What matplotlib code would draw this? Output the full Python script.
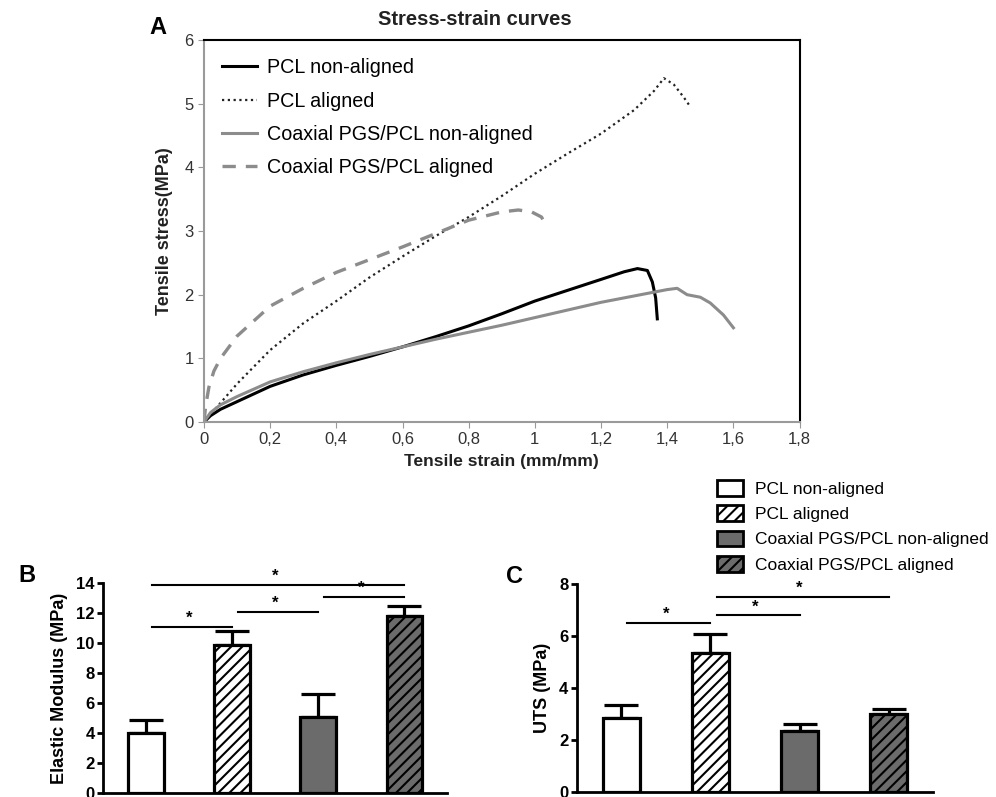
import numpy as np
import matplotlib
matplotlib.use("Agg")
import matplotlib.pyplot as plt

plt.rcParams['font.family'] = ['Liberation Sans', 'DejaVu Sans']
plt.rcParams['hatch.linewidth'] = 1.5

# ---- panel A: stress-strain curves ----
pcl_na_x = [0, 0.02, 0.05, 0.1, 0.2, 0.3, 0.4, 0.5, 0.6, 0.7, 0.8, 0.9, 1.0, 1.1, 1.2, 1.27, 1.31, 1.34, 1.355, 1.365, 1.37]
pcl_na_y = [0, 0.1, 0.2, 0.32, 0.56, 0.74, 0.89, 1.03, 1.18, 1.34, 1.51, 1.70, 1.90, 2.07, 2.24, 2.36, 2.41, 2.38, 2.2, 1.95, 1.62]

pcl_al_x = [0, 0.03, 0.1, 0.2, 0.3, 0.4, 0.5, 0.6, 0.7, 0.8, 0.9, 1.0, 1.1, 1.2, 1.3, 1.36, 1.39, 1.42, 1.45, 1.47]
pcl_al_y = [0, 0.18, 0.6, 1.13, 1.55, 1.9, 2.27, 2.6, 2.92, 3.22, 3.55, 3.9, 4.22, 4.53, 4.9, 5.2, 5.4, 5.3, 5.1, 4.95]

pgs_na_x = [0, 0.02, 0.05, 0.1, 0.2, 0.3, 0.4, 0.5, 0.6, 0.7, 0.8, 0.9, 1.0, 1.1, 1.2, 1.3, 1.4, 1.43, 1.46, 1.5, 1.53, 1.57, 1.6]
pgs_na_y = [0, 0.15, 0.27, 0.4, 0.63, 0.79, 0.93, 1.06, 1.18, 1.3, 1.41, 1.52, 1.64, 1.76, 1.88, 1.98, 2.08, 2.1, 2.0, 1.96, 1.87, 1.68, 1.48]

pgs_al_x = [0, 0.005, 0.015, 0.03, 0.05, 0.1, 0.2, 0.3, 0.4, 0.5, 0.6, 0.7, 0.8, 0.9, 0.95, 0.99, 1.02, 1.03]
pgs_al_y = [0, 0.25, 0.55, 0.8, 1.0, 1.35, 1.82, 2.1, 2.35, 2.55, 2.75, 2.96, 3.17, 3.3, 3.33, 3.3, 3.22, 3.12]

# ---- panels B and C: bar data ----
groups = ["PCL non-aligned", "PCL aligned", "Coaxial PGS/PCL non-aligned", "Coaxial PGS/PCL aligned"]
modulus = [4.0, 9.9, 5.05, 11.8]
modulus_err = [0.9, 0.9, 1.55, 0.7]
uts = [2.85, 5.35, 2.33, 3.0]
uts_err = [0.48, 0.75, 0.27, 0.19]
# significance bars: (from group, to group, height)
sig_b = [(0, 1, 11.1), (1, 2, 12.1), (2, 3, 13.1), (0, 3, 13.9)]
sig_c = [(0, 1, 6.5), (1, 2, 6.8), (1, 3, 7.5)]

bar_face = ["white", "white", "#6b6b6b", "#6b6b6b"]
bar_hatch = [None, "///", None, "///"]

fig = plt.figure(figsize=(9.96, 7.97), dpi=100)

# ---------- A ----------
axA = fig.add_axes([0.2048, 0.4705, 0.598, 0.4793])
axA.plot(pcl_na_x, pcl_na_y, color="black", lw=2.2, label="PCL non-aligned")
axA.plot(pcl_al_x, pcl_al_y, color="#222222", lw=1.6, ls=(0, (1, 1.6)), label="PCL aligned")
axA.plot(pgs_na_x, pgs_na_y, color="#8c8c8c", lw=2.2, label="Coaxial PGS/PCL non-aligned")
axA.plot(pgs_al_x, pgs_al_y, color="#8c8c8c", lw=2.4, ls=(0, (4, 3)), label="Coaxial PGS/PCL aligned")
axA.set_xlim(0, 1.8)
axA.set_ylim(0, 6)
axA.set_xticks(np.arange(0, 1.81, 0.2))
axA.set_xticklabels(["0", "0,2", "0,4", "0,6", "0,8", "1", "1,2", "1,4", "1,6", "1,8"])
axA.set_yticks(range(7))
axA.tick_params(direction="out", length=4, color="#999999", labelsize=12, labelcolor="#333333")
for s in ["left", "bottom"]:
    axA.spines[s].set_color("#9a9a9a")
    axA.spines[s].set_linewidth(1.5)
for s in ["top", "right"]:
    axA.spines[s].set_color("black")
    axA.spines[s].set_linewidth(1.5)
axA.set_xlabel("Tensile strain (mm/mm)", fontsize=12.5, fontweight="bold", color="#222222", labelpad=5)
axA.set_ylabel("Tensile stress(MPa)", fontsize=13, fontweight="bold", color="#222222", labelpad=8)
axA.set_title("Stress-strain curves", fontsize=14.5, fontweight="bold", color="#222222", x=0.455, pad=11)
axA.legend(loc="upper left", frameon=False, fontsize=14.2, handlelength=1.8, handletextpad=0.5,
           labelspacing=0.72, borderaxespad=0.3, bbox_to_anchor=(0.007, 0.988))
fig.text(0.15, 0.957, "A", fontsize=17, fontweight="bold")


def bar_panel(ax, vals, errs, sigs, ymax, step, ylabel):
    x = np.arange(len(vals))
    for i in range(len(vals)):
        ax.bar(x[i], vals[i], width=0.41, color=bar_face[i], edgecolor="black",
               linewidth=2.3, hatch=bar_hatch[i], zorder=2)
        ax.errorbar(x[i], vals[i], yerr=[[0], [errs[i]]], color="black",
                    elinewidth=2.3, capsize=12, capthick=2.3, zorder=1)
    for a, b, h in sigs:
        ax.plot([x[a] + 0.07, x[b]], [h, h], color="black", lw=1.5, clip_on=False)
        ax.text((x[a] + x[b]) / 2, h + ymax * 0.005, "*", ha="center", va="bottom",
                fontsize=12, fontweight="bold")
    ax.set_xlim(-0.5, 3.5)
    ax.set_ylim(0, ymax)
    ax.set_yticks(np.arange(0, ymax + 0.1, step))
    ax.set_xticks([])
    for s in ["top", "right"]:
        ax.spines[s].set_visible(False)
    for s in ["left", "bottom"]:
        ax.spines[s].set_linewidth(2)
    ax.tick_params(axis="y", direction="out", length=4, width=2, pad=2, labelsize=12)
    for t in ax.get_yticklabels():
        t.set_fontweight("bold")
    ax.set_ylabel(ylabel, fontsize=13, fontweight="bold", labelpad=6)


# ---------- B ----------
axB = fig.add_axes([0.1034, 0.005, 0.3456, 0.2635])
bar_panel(axB, modulus, modulus_err, sig_b, 14, 2, "Elastic Modulus (MPa)")
fig.text(0.018, 0.27, "B", fontsize=17, fontweight="bold")

# ---------- C ----------
axC = fig.add_axes([0.579, 0.0063, 0.358, 0.2607])
bar_panel(axC, uts, uts_err, sig_c, 8, 2, "UTS (MPa)")
fig.text(0.508, 0.268, "C", fontsize=17, fontweight="bold")

# legend for bar panels
handles = [plt.Rectangle((0, 0), 1, 1, facecolor=bar_face[i], edgecolor="black",
                         linewidth=2, hatch=bar_hatch[i]) for i in range(4)]
fig.legend(handles, groups, loc="upper left", bbox_to_anchor=(0.713, 0.4065),
           frameon=False, fontsize=12.5, handlelength=1.5, handleheight=1.0,
           labelspacing=0.5, handletextpad=0.7, borderaxespad=0.0)

fig.savefig("out.png", dpi=100)
